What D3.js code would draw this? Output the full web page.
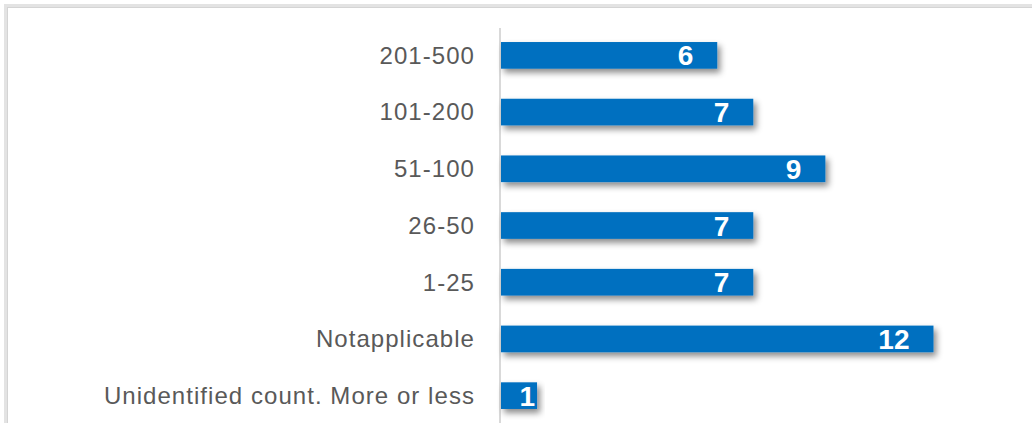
<!DOCTYPE html>
<html><head><meta charset="utf-8">
<script src="https://cdn.jsdelivr.net/npm/d3@7/dist/d3.min.js"></script>
<style>
html,body{margin:0;padding:0;background:#fff;overflow:hidden;}
svg{display:block;}
</style></head>
<body>
<svg id="chart" width="1032" height="423"></svg>
<script>
const categories = ["201-500","101-200","51-100","26-50","1-25","Notapplicable","Unidentified count. More or less"];
const values = [6,7,9,7,7,12,1];

const svg = d3.select("#chart");
const W = 1032, H = 423;

// frame
svg.append("rect").attr("x",5.5).attr("y",5.5).attr("width",W+20).attr("height",H+20)
  .attr("fill","none").attr("stroke","#e3e3e3").attr("stroke-width",3);
svg.append("rect").attr("x",7.5).attr("y",7.5).attr("width",W+20).attr("height",H+20)
  .attr("fill","none").attr("stroke","#d4d4d4").attr("stroke-width",1);

const defs = svg.append("defs");
const f = defs.append("filter").attr("id","sh").attr("x","-10%").attr("y","-30%").attr("width","130%").attr("height","190%");
f.append("feDropShadow").attr("dx",3).attr("dy",4).attr("stdDeviation",3)
  .attr("flood-color","#000").attr("flood-opacity",0.45);

const x = d3.scaleLinear().domain([0,14]).range([501, 501+14*36.04]);
const y = d3.scaleBand().domain(categories).range([27,424]).paddingInner(0.53).paddingOuter(0.265);

// axis line
svg.append("line").attr("x1",500).attr("x2",500).attr("y1",28).attr("y2",H)
  .attr("stroke","#d9d9d9").attr("stroke-width",2);

const yAxis = d3.axisLeft(y).tickSize(0).tickPadding(0);
const ga = svg.append("g").attr("transform","translate(475,0)").call(yAxis);
ga.select(".domain").remove();
ga.selectAll("text").attr("fill","#595959")
  .style("font-family","'Liberation Sans', Arial, sans-serif").style("font-size","24px")
  .style("letter-spacing","1.05px")
  .attr("dy","0.35em");

svg.append("g").selectAll("rect").data(categories).join("rect")
  .attr("x", x(0)).attr("y", d=>y(d)).attr("width",(d,i)=>x(values[i])-x(0))
  .attr("height", y.bandwidth()).attr("fill","#0070C0").attr("filter","url(#sh)");

const labels = svg.append("g").selectAll("text").data(categories).join("text")
  .attr("y", d=>y(d)+y.bandwidth()/2)
  .attr("dy","0.36em").attr("text-anchor","end").attr("fill","#fff")
  .style("font-family","'Liberation Sans', Arial, sans-serif").style("font-weight","bold").style("font-size","28px")
  .text((d,i)=>values[i]);
labels.attr("x", function(d,i){
  const w = this.getComputedTextLength();
  const barW = x(values[i]) - x(0);
  return (barW < w + 30) ? x(values[i]) - 2 : x(values[i]) - 24;
});
</script>
</body></html>
